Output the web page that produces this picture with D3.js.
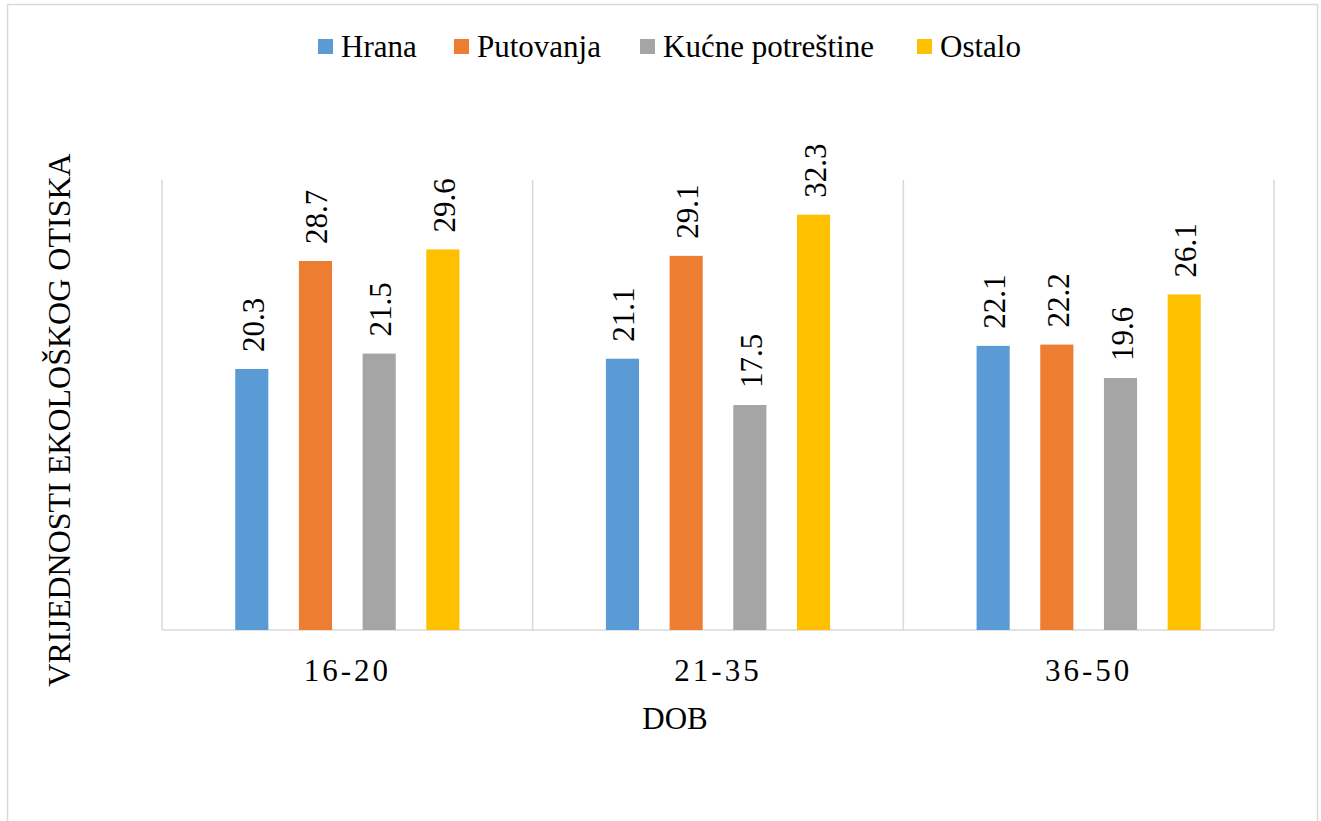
<!DOCTYPE html>
<html><head><meta charset="utf-8">
<script src="https://cdn.jsdelivr.net/npm/d3@7"></script>
</head><body style="margin:0">
<script>
const categories = ["16-20", "21-35", "36-50"];
const seriesNames = ["Hrana", "Putovanja", "Kućne potreštine", "Ostalo"];
const hrana = [20.3, 21.1, 22.1];
const putovanja = [28.7, 29.1, 22.2];
const kucne = [21.5, 17.5, 19.6];
const ostalo = [29.6, 32.3, 26.1];
const colors = ["#5b9bd5", "#ed7d31", "#a5a5a5", "#ffc000"];
const xTitle = "DOB";
const yTitle = "VRIJEDNOSTI EKOLOŠKOG OTISKA";

const FONT = "Liberation Serif";
const seriesValues = [hrana, putovanja, kucne, ostalo];
const W = 1321, H = 821;
const svg = d3.select("body").append("svg").attr("width", W).attr("height", H).style("display","block");

// outer border
svg.append("path").attr("d", `M7.5,${H} V4.5 H1317.5 V${H}`).attr("fill","none").attr("stroke","#d9d9d9").attr("stroke-width",1.5);

const plot = {l:162, r:1274, t:180, b:630};
const x0 = d3.scaleBand().domain(categories).range([plot.l, plot.r]).padding(0);
const x1 = d3.scaleBand().domain(seriesNames).range([0, x0.bandwidth()]).paddingInner(0.48).paddingOuter(1.15);
const y = d3.scaleLinear().domain([0, 35]).range([plot.b, plot.t]);

// vertical category separators
const g = svg.append("g");
const bounds = categories.map(c => x0(c)).concat([plot.r]);
g.selectAll("line.grid").data(bounds).enter().append("line")
  .attr("x1", d=>d).attr("x2", d=>d).attr("y1", plot.t).attr("y2", plot.b)
  .attr("stroke","#d9d9d9").attr("stroke-width",1.5);
g.append("line").attr("x1", plot.l).attr("x2", plot.r).attr("y1", plot.b).attr("y2", plot.b)
  .attr("stroke","#d9d9d9").attr("stroke-width",1.5);

// bars
const data = [];
categories.forEach((c, ci) => seriesNames.forEach((s, si) => data.push({c, s, si, v: seriesValues[si][ci]})));
svg.selectAll("rect.bar").data(data).enter().append("rect")
  .attr("x", d => x0(d.c) + x1(d.s))
  .attr("y", d => y(d.v))
  .attr("width", x1.bandwidth())
  .attr("height", d => y(0) - y(d.v))
  .attr("fill", d => colors[d.si]);

// value labels
svg.selectAll("text.val").data(data).enter().append("text")
  .style("font-family", d => FONT)
  .attr("transform", d => `translate(${x0(d.c) + x1(d.s) + x1.bandwidth()/2 + 12},${y(d.v) - 17}) rotate(-90)`)
  .attr("font-size", 31).attr("fill","#000")
  .text(d => d.v.toFixed(1));

// category labels
svg.selectAll("text.cat").data(categories).enter().append("text")
  .style("font-family", d => FONT)
  .attr("x", d => x0(d) + x0.bandwidth()/2).attr("y", 681)
  .attr("text-anchor","middle").attr("font-size", 31).attr("letter-spacing", 3)
  .text(d => d);

// axis titles
svg.append("text").style("font-family", FONT).attr("x", 675).attr("y", 729).attr("text-anchor","middle").attr("font-size",31).text(xTitle);
svg.append("text").style("font-family", FONT).attr("transform","translate(70,420) rotate(-90)").attr("text-anchor","middle").attr("font-size",32).text(yTitle);

// legend
const legendX = [318, 454, 640, 917];
const leg = svg.selectAll("g.leg").data(seriesNames).enter().append("g")
  .attr("transform", (d,i) => `translate(${legendX[i]},39)`);
leg.append("rect").attr("width",15).attr("height",15).attr("fill",(d,i)=>colors[i]);
leg.append("text").style("font-family", d => FONT).attr("x",23).attr("y",18).attr("font-size",31).text(d=>d);
</script>
</body></html>
